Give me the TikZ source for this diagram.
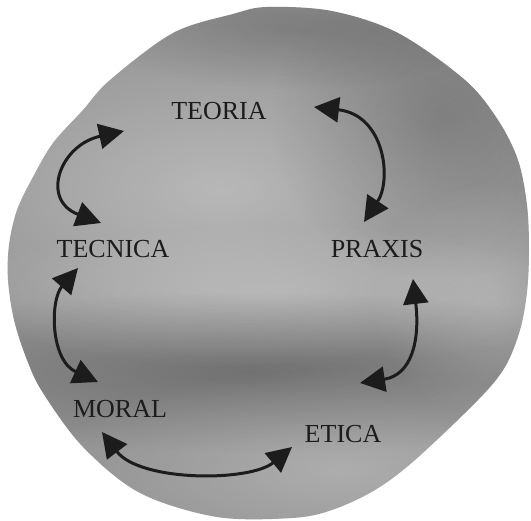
\documentclass[tikz,border=0pt]{standalone}
\usepackage{fontspec}
\setmainfont{Liberation Serif}
\usetikzlibrary{arrows.meta,fadings}
\definecolor{diskgray}{RGB}{146,146,146}
\definecolor{inkgray}{RGB}{28,28,28}
\tikzfading[name=softspot, inner color=transparent!0, outer color=transparent!100]
\begin{document}
\begin{tikzpicture}[x=1pt,y=-1pt,
  lbl/.style={font=\fontsize{26}{26}\selectfont, text=inkgray, inner sep=0pt, anchor=base},
  biarrow/.style={draw=inkgray, line width=3pt,
    {Triangle[length=25pt,width=25pt]}-{Triangle[length=25pt,width=25pt]}},
  lightspot/.style={fill=white, path fading=softspot},
  darkspot/.style={fill=black, path fading=softspot}]
\useasboundingbox (0,0) rectangle (531,521);
% background disk with soft tonal patches
\begin{scope}
  \clip plot[smooth cycle, tension=0.55] coordinates {(267,7) (332,11) (398,33) (465,80) (498,120) (518,160) (527,205) (529,250) (527,292) (520,330) (505,367) (478,400) (415,460) (375,490) (332,510) (292,518) (217,517) (140,493) (83,447) (43,393) (27,360) (14,320) (8,280) (9,245) (17,210) (33,177) (53,143) (83,110) (110,80) (173,33) (233,14)};
  \fill[diskgray] (0,0) rectangle (531,521);
  \fill[lightspot, opacity=0.35] (220,190) ellipse (360pt and 180pt);
  \fill[lightspot, opacity=0.25] (270,295) ellipse (340pt and 70pt);
  \fill[darkspot, opacity=0.22] (250,372) ellipse (440pt and 80pt);
  \fill[lightspot, opacity=0.25] (340,470) ellipse (300pt and 100pt);
  \fill[darkspot, opacity=0.18] (440,120) ellipse (170pt and 160pt);
  \fill[darkspot, opacity=0.15] (290,30) ellipse (200pt and 60pt);
  \fill[lightspot, opacity=0.2] (490,300) ellipse (120pt and 120pt);
\end{scope}
% labels
\node[lbl] (teoria)  at (219,120) {TEORIA};
\node[lbl] (tecnica) at (113,258) {TECNICA};
\node[lbl] (praxis)  at (377,258) {PRAXIS};
\node[lbl] (moral)   at (120,418) {MORAL};
\node[lbl] (etica)   at (343,443) {ETICA};
% arrow end points
\coordinate (a1s) at (124,131); \coordinate (a1e) at (101,223);
\coordinate (a2s) at (314,107); \coordinate (a2e) at (364,222);
\coordinate (a3s) at (413,279); \coordinate (a3e) at (360,383);
\coordinate (a4s) at (102,432); \coordinate (a4e) at (292,447);
\coordinate (a5s) at (78,268);  \coordinate (a5e) at (98,382);
% connectors
\draw[biarrow] (a1s) .. controls (60,145) and (40,200) .. (a1e);
\draw[biarrow] (a2s) .. controls (385,115) and (392,180) .. (a2e);
\draw[biarrow] (a3s) .. controls (420,340) and (412,375) .. (a3e);
\draw[biarrow] (a4s) .. controls (140,482) and (250,482) .. (a4e);
\draw[biarrow] (a5s) .. controls (50,300) and (50,360) .. (a5e);
\end{tikzpicture}
\end{document}
